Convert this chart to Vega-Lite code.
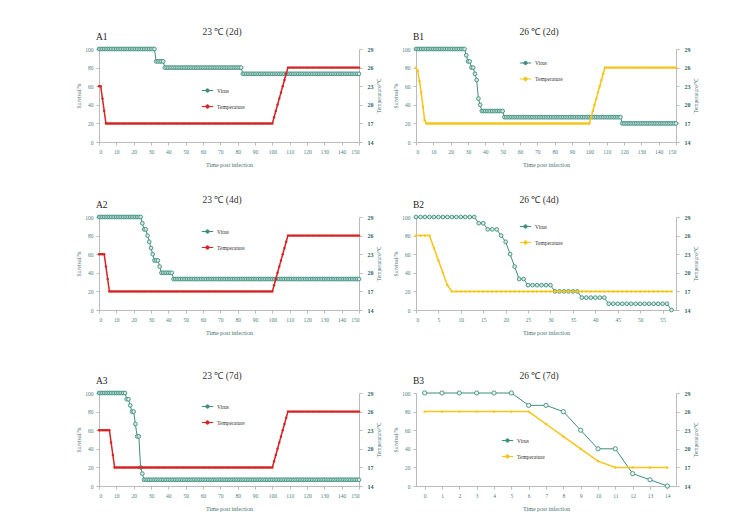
{
"$schema":"https://vega.github.io/schema/vega-lite/v6.json",
"padding":{"left":76,"top":26,"right":5,"bottom":5},
"autosize":{"type":"pad"},
"datasets":{
"A1":[{"t":0,"v":100,"T":23},{"t":1,"v":100,"T":23},{"t":2,"v":100,"T":21},{"t":3,"v":100,"T":19},{"t":4,"v":100,"T":17},{"t":5,"v":100,"T":17},{"t":6,"v":100,"T":17},{"t":7,"v":100,"T":17},{"t":8,"v":100,"T":17},{"t":9,"v":100,"T":17},{"t":10,"v":100,"T":17},{"t":11,"v":100,"T":17},{"t":12,"v":100,"T":17},{"t":13,"v":100,"T":17},{"t":14,"v":100,"T":17},{"t":15,"v":100,"T":17},{"t":16,"v":100,"T":17},{"t":17,"v":100,"T":17},{"t":18,"v":100,"T":17},{"t":19,"v":100,"T":17},{"t":20,"v":100,"T":17},{"t":21,"v":100,"T":17},{"t":22,"v":100,"T":17},{"t":23,"v":100,"T":17},{"t":24,"v":100,"T":17},{"t":25,"v":100,"T":17},{"t":26,"v":100,"T":17},{"t":27,"v":100,"T":17},{"t":28,"v":100,"T":17},{"t":29,"v":100,"T":17},{"t":30,"v":100,"T":17},{"t":31,"v":100,"T":17},{"t":32,"v":100,"T":17},{"t":33,"v":86.7,"T":17},{"t":34,"v":86.7,"T":17},{"t":35,"v":86.7,"T":17},{"t":36,"v":86.7,"T":17},{"t":37,"v":86.7,"T":17},{"t":38,"v":80,"T":17},{"t":39,"v":80,"T":17},{"t":40,"v":80,"T":17},{"t":41,"v":80,"T":17},{"t":42,"v":80,"T":17},{"t":43,"v":80,"T":17},{"t":44,"v":80,"T":17},{"t":45,"v":80,"T":17},{"t":46,"v":80,"T":17},{"t":47,"v":80,"T":17},{"t":48,"v":80,"T":17},{"t":49,"v":80,"T":17},{"t":50,"v":80,"T":17},{"t":51,"v":80,"T":17},{"t":52,"v":80,"T":17},{"t":53,"v":80,"T":17},{"t":54,"v":80,"T":17},{"t":55,"v":80,"T":17},{"t":56,"v":80,"T":17},{"t":57,"v":80,"T":17},{"t":58,"v":80,"T":17},{"t":59,"v":80,"T":17},{"t":60,"v":80,"T":17},{"t":61,"v":80,"T":17},{"t":62,"v":80,"T":17},{"t":63,"v":80,"T":17},{"t":64,"v":80,"T":17},{"t":65,"v":80,"T":17},{"t":66,"v":80,"T":17},{"t":67,"v":80,"T":17},{"t":68,"v":80,"T":17},{"t":69,"v":80,"T":17},{"t":70,"v":80,"T":17},{"t":71,"v":80,"T":17},{"t":72,"v":80,"T":17},{"t":73,"v":80,"T":17},{"t":74,"v":80,"T":17},{"t":75,"v":80,"T":17},{"t":76,"v":80,"T":17},{"t":77,"v":80,"T":17},{"t":78,"v":80,"T":17},{"t":79,"v":80,"T":17},{"t":80,"v":80,"T":17},{"t":81,"v":80,"T":17},{"t":82,"v":80,"T":17},{"t":83,"v":73.3,"T":17},{"t":84,"v":73.3,"T":17},{"t":85,"v":73.3,"T":17},{"t":86,"v":73.3,"T":17},{"t":87,"v":73.3,"T":17},{"t":88,"v":73.3,"T":17},{"t":89,"v":73.3,"T":17},{"t":90,"v":73.3,"T":17},{"t":91,"v":73.3,"T":17},{"t":92,"v":73.3,"T":17},{"t":93,"v":73.3,"T":17},{"t":94,"v":73.3,"T":17},{"t":95,"v":73.3,"T":17},{"t":96,"v":73.3,"T":17},{"t":97,"v":73.3,"T":17},{"t":98,"v":73.3,"T":17},{"t":99,"v":73.3,"T":17},{"t":100,"v":73.3,"T":17},{"t":101,"v":73.3,"T":18},{"t":102,"v":73.3,"T":19},{"t":103,"v":73.3,"T":20},{"t":104,"v":73.3,"T":21},{"t":105,"v":73.3,"T":22},{"t":106,"v":73.3,"T":23},{"t":107,"v":73.3,"T":24},{"t":108,"v":73.3,"T":25},{"t":109,"v":73.3,"T":26},{"t":110,"v":73.3,"T":26},{"t":111,"v":73.3,"T":26},{"t":112,"v":73.3,"T":26},{"t":113,"v":73.3,"T":26},{"t":114,"v":73.3,"T":26},{"t":115,"v":73.3,"T":26},{"t":116,"v":73.3,"T":26},{"t":117,"v":73.3,"T":26},{"t":118,"v":73.3,"T":26},{"t":119,"v":73.3,"T":26},{"t":120,"v":73.3,"T":26},{"t":121,"v":73.3,"T":26},{"t":122,"v":73.3,"T":26},{"t":123,"v":73.3,"T":26},{"t":124,"v":73.3,"T":26},{"t":125,"v":73.3,"T":26},{"t":126,"v":73.3,"T":26},{"t":127,"v":73.3,"T":26},{"t":128,"v":73.3,"T":26},{"t":129,"v":73.3,"T":26},{"t":130,"v":73.3,"T":26},{"t":131,"v":73.3,"T":26},{"t":132,"v":73.3,"T":26},{"t":133,"v":73.3,"T":26},{"t":134,"v":73.3,"T":26},{"t":135,"v":73.3,"T":26},{"t":136,"v":73.3,"T":26},{"t":137,"v":73.3,"T":26},{"t":138,"v":73.3,"T":26},{"t":139,"v":73.3,"T":26},{"t":140,"v":73.3,"T":26},{"t":141,"v":73.3,"T":26},{"t":142,"v":73.3,"T":26},{"t":143,"v":73.3,"T":26},{"t":144,"v":73.3,"T":26},{"t":145,"v":73.3,"T":26},{"t":146,"v":73.3,"T":26},{"t":147,"v":73.3,"T":26},{"t":148,"v":73.3,"T":26},{"t":149,"v":73.3,"T":26},{"t":150,"v":73.3,"T":26}],
"B1":[{"t":0,"v":100,"T":26},{"t":1,"v":100,"T":25.5},{"t":2,"v":100,"T":23.8},{"t":3,"v":100,"T":22},{"t":4,"v":100,"T":19.7},{"t":5,"v":100,"T":17.5},{"t":6,"v":100,"T":17},{"t":7,"v":100,"T":17},{"t":8,"v":100,"T":17},{"t":9,"v":100,"T":17},{"t":10,"v":100,"T":17},{"t":11,"v":100,"T":17},{"t":12,"v":100,"T":17},{"t":13,"v":100,"T":17},{"t":14,"v":100,"T":17},{"t":15,"v":100,"T":17},{"t":16,"v":100,"T":17},{"t":17,"v":100,"T":17},{"t":18,"v":100,"T":17},{"t":19,"v":100,"T":17},{"t":20,"v":100,"T":17},{"t":21,"v":100,"T":17},{"t":22,"v":100,"T":17},{"t":23,"v":100,"T":17},{"t":24,"v":100,"T":17},{"t":25,"v":100,"T":17},{"t":26,"v":100,"T":17},{"t":27,"v":100,"T":17},{"t":28,"v":100,"T":17},{"t":29,"v":93.3,"T":17},{"t":30,"v":86.7,"T":17},{"t":31,"v":86.7,"T":17},{"t":32,"v":80,"T":17},{"t":33,"v":80,"T":17},{"t":34,"v":73.3,"T":17},{"t":35,"v":66.7,"T":17},{"t":36,"v":46.7,"T":17},{"t":37,"v":40,"T":17},{"t":38,"v":33.3,"T":17},{"t":39,"v":33.3,"T":17},{"t":40,"v":33.3,"T":17},{"t":41,"v":33.3,"T":17},{"t":42,"v":33.3,"T":17},{"t":43,"v":33.3,"T":17},{"t":44,"v":33.3,"T":17},{"t":45,"v":33.3,"T":17},{"t":46,"v":33.3,"T":17},{"t":47,"v":33.3,"T":17},{"t":48,"v":33.3,"T":17},{"t":49,"v":33.3,"T":17},{"t":50,"v":33.3,"T":17},{"t":51,"v":26.7,"T":17},{"t":52,"v":26.7,"T":17},{"t":53,"v":26.7,"T":17},{"t":54,"v":26.7,"T":17},{"t":55,"v":26.7,"T":17},{"t":56,"v":26.7,"T":17},{"t":57,"v":26.7,"T":17},{"t":58,"v":26.7,"T":17},{"t":59,"v":26.7,"T":17},{"t":60,"v":26.7,"T":17},{"t":61,"v":26.7,"T":17},{"t":62,"v":26.7,"T":17},{"t":63,"v":26.7,"T":17},{"t":64,"v":26.7,"T":17},{"t":65,"v":26.7,"T":17},{"t":66,"v":26.7,"T":17},{"t":67,"v":26.7,"T":17},{"t":68,"v":26.7,"T":17},{"t":69,"v":26.7,"T":17},{"t":70,"v":26.7,"T":17},{"t":71,"v":26.7,"T":17},{"t":72,"v":26.7,"T":17},{"t":73,"v":26.7,"T":17},{"t":74,"v":26.7,"T":17},{"t":75,"v":26.7,"T":17},{"t":76,"v":26.7,"T":17},{"t":77,"v":26.7,"T":17},{"t":78,"v":26.7,"T":17},{"t":79,"v":26.7,"T":17},{"t":80,"v":26.7,"T":17},{"t":81,"v":26.7,"T":17},{"t":82,"v":26.7,"T":17},{"t":83,"v":26.7,"T":17},{"t":84,"v":26.7,"T":17},{"t":85,"v":26.7,"T":17},{"t":86,"v":26.7,"T":17},{"t":87,"v":26.7,"T":17},{"t":88,"v":26.7,"T":17},{"t":89,"v":26.7,"T":17},{"t":90,"v":26.7,"T":17},{"t":91,"v":26.7,"T":17},{"t":92,"v":26.7,"T":17},{"t":93,"v":26.7,"T":17},{"t":94,"v":26.7,"T":17},{"t":95,"v":26.7,"T":17},{"t":96,"v":26.7,"T":17},{"t":97,"v":26.7,"T":17},{"t":98,"v":26.7,"T":17},{"t":99,"v":26.7,"T":17},{"t":100,"v":26.7,"T":17},{"t":101,"v":26.7,"T":18},{"t":102,"v":26.7,"T":19},{"t":103,"v":26.7,"T":20},{"t":104,"v":26.7,"T":21},{"t":105,"v":26.7,"T":22},{"t":106,"v":26.7,"T":23},{"t":107,"v":26.7,"T":24},{"t":108,"v":26.7,"T":25},{"t":109,"v":26.7,"T":26},{"t":110,"v":26.7,"T":26},{"t":111,"v":26.7,"T":26},{"t":112,"v":26.7,"T":26},{"t":113,"v":26.7,"T":26},{"t":114,"v":26.7,"T":26},{"t":115,"v":26.7,"T":26},{"t":116,"v":26.7,"T":26},{"t":117,"v":26.7,"T":26},{"t":118,"v":26.7,"T":26},{"t":119,"v":20,"T":26},{"t":120,"v":20,"T":26},{"t":121,"v":20,"T":26},{"t":122,"v":20,"T":26},{"t":123,"v":20,"T":26},{"t":124,"v":20,"T":26},{"t":125,"v":20,"T":26},{"t":126,"v":20,"T":26},{"t":127,"v":20,"T":26},{"t":128,"v":20,"T":26},{"t":129,"v":20,"T":26},{"t":130,"v":20,"T":26},{"t":131,"v":20,"T":26},{"t":132,"v":20,"T":26},{"t":133,"v":20,"T":26},{"t":134,"v":20,"T":26},{"t":135,"v":20,"T":26},{"t":136,"v":20,"T":26},{"t":137,"v":20,"T":26},{"t":138,"v":20,"T":26},{"t":139,"v":20,"T":26},{"t":140,"v":20,"T":26},{"t":141,"v":20,"T":26},{"t":142,"v":20,"T":26},{"t":143,"v":20,"T":26},{"t":144,"v":20,"T":26},{"t":145,"v":20,"T":26},{"t":146,"v":20,"T":26},{"t":147,"v":20,"T":26},{"t":148,"v":20,"T":26},{"t":149,"v":20,"T":26},{"t":150,"v":20,"T":26}],
"A2":[{"t":0,"v":100,"T":23},{"t":1,"v":100,"T":23},{"t":2,"v":100,"T":23},{"t":3,"v":100,"T":23},{"t":4,"v":100,"T":21},{"t":5,"v":100,"T":19},{"t":6,"v":100,"T":17},{"t":7,"v":100,"T":17},{"t":8,"v":100,"T":17},{"t":9,"v":100,"T":17},{"t":10,"v":100,"T":17},{"t":11,"v":100,"T":17},{"t":12,"v":100,"T":17},{"t":13,"v":100,"T":17},{"t":14,"v":100,"T":17},{"t":15,"v":100,"T":17},{"t":16,"v":100,"T":17},{"t":17,"v":100,"T":17},{"t":18,"v":100,"T":17},{"t":19,"v":100,"T":17},{"t":20,"v":100,"T":17},{"t":21,"v":100,"T":17},{"t":22,"v":100,"T":17},{"t":23,"v":100,"T":17},{"t":24,"v":100,"T":17},{"t":25,"v":93.3,"T":17},{"t":26,"v":86.7,"T":17},{"t":27,"v":86.7,"T":17},{"t":28,"v":80,"T":17},{"t":29,"v":73.3,"T":17},{"t":30,"v":66.7,"T":17},{"t":31,"v":60,"T":17},{"t":32,"v":53.3,"T":17},{"t":33,"v":53.3,"T":17},{"t":34,"v":53.3,"T":17},{"t":35,"v":46.7,"T":17},{"t":36,"v":40,"T":17},{"t":37,"v":40,"T":17},{"t":38,"v":40,"T":17},{"t":39,"v":40,"T":17},{"t":40,"v":40,"T":17},{"t":41,"v":40,"T":17},{"t":42,"v":40,"T":17},{"t":43,"v":33.3,"T":17},{"t":44,"v":33.3,"T":17},{"t":45,"v":33.3,"T":17},{"t":46,"v":33.3,"T":17},{"t":47,"v":33.3,"T":17},{"t":48,"v":33.3,"T":17},{"t":49,"v":33.3,"T":17},{"t":50,"v":33.3,"T":17},{"t":51,"v":33.3,"T":17},{"t":52,"v":33.3,"T":17},{"t":53,"v":33.3,"T":17},{"t":54,"v":33.3,"T":17},{"t":55,"v":33.3,"T":17},{"t":56,"v":33.3,"T":17},{"t":57,"v":33.3,"T":17},{"t":58,"v":33.3,"T":17},{"t":59,"v":33.3,"T":17},{"t":60,"v":33.3,"T":17},{"t":61,"v":33.3,"T":17},{"t":62,"v":33.3,"T":17},{"t":63,"v":33.3,"T":17},{"t":64,"v":33.3,"T":17},{"t":65,"v":33.3,"T":17},{"t":66,"v":33.3,"T":17},{"t":67,"v":33.3,"T":17},{"t":68,"v":33.3,"T":17},{"t":69,"v":33.3,"T":17},{"t":70,"v":33.3,"T":17},{"t":71,"v":33.3,"T":17},{"t":72,"v":33.3,"T":17},{"t":73,"v":33.3,"T":17},{"t":74,"v":33.3,"T":17},{"t":75,"v":33.3,"T":17},{"t":76,"v":33.3,"T":17},{"t":77,"v":33.3,"T":17},{"t":78,"v":33.3,"T":17},{"t":79,"v":33.3,"T":17},{"t":80,"v":33.3,"T":17},{"t":81,"v":33.3,"T":17},{"t":82,"v":33.3,"T":17},{"t":83,"v":33.3,"T":17},{"t":84,"v":33.3,"T":17},{"t":85,"v":33.3,"T":17},{"t":86,"v":33.3,"T":17},{"t":87,"v":33.3,"T":17},{"t":88,"v":33.3,"T":17},{"t":89,"v":33.3,"T":17},{"t":90,"v":33.3,"T":17},{"t":91,"v":33.3,"T":17},{"t":92,"v":33.3,"T":17},{"t":93,"v":33.3,"T":17},{"t":94,"v":33.3,"T":17},{"t":95,"v":33.3,"T":17},{"t":96,"v":33.3,"T":17},{"t":97,"v":33.3,"T":17},{"t":98,"v":33.3,"T":17},{"t":99,"v":33.3,"T":17},{"t":100,"v":33.3,"T":17},{"t":101,"v":33.3,"T":18},{"t":102,"v":33.3,"T":19},{"t":103,"v":33.3,"T":20},{"t":104,"v":33.3,"T":21},{"t":105,"v":33.3,"T":22},{"t":106,"v":33.3,"T":23},{"t":107,"v":33.3,"T":24},{"t":108,"v":33.3,"T":25},{"t":109,"v":33.3,"T":26},{"t":110,"v":33.3,"T":26},{"t":111,"v":33.3,"T":26},{"t":112,"v":33.3,"T":26},{"t":113,"v":33.3,"T":26},{"t":114,"v":33.3,"T":26},{"t":115,"v":33.3,"T":26},{"t":116,"v":33.3,"T":26},{"t":117,"v":33.3,"T":26},{"t":118,"v":33.3,"T":26},{"t":119,"v":33.3,"T":26},{"t":120,"v":33.3,"T":26},{"t":121,"v":33.3,"T":26},{"t":122,"v":33.3,"T":26},{"t":123,"v":33.3,"T":26},{"t":124,"v":33.3,"T":26},{"t":125,"v":33.3,"T":26},{"t":126,"v":33.3,"T":26},{"t":127,"v":33.3,"T":26},{"t":128,"v":33.3,"T":26},{"t":129,"v":33.3,"T":26},{"t":130,"v":33.3,"T":26},{"t":131,"v":33.3,"T":26},{"t":132,"v":33.3,"T":26},{"t":133,"v":33.3,"T":26},{"t":134,"v":33.3,"T":26},{"t":135,"v":33.3,"T":26},{"t":136,"v":33.3,"T":26},{"t":137,"v":33.3,"T":26},{"t":138,"v":33.3,"T":26},{"t":139,"v":33.3,"T":26},{"t":140,"v":33.3,"T":26},{"t":141,"v":33.3,"T":26},{"t":142,"v":33.3,"T":26},{"t":143,"v":33.3,"T":26},{"t":144,"v":33.3,"T":26},{"t":145,"v":33.3,"T":26},{"t":146,"v":33.3,"T":26},{"t":147,"v":33.3,"T":26},{"t":148,"v":33.3,"T":26},{"t":149,"v":33.3,"T":26},{"t":150,"v":33.3,"T":26}],
"A3":[{"t":0,"v":100,"T":23},{"t":1,"v":100,"T":23},{"t":2,"v":100,"T":23},{"t":3,"v":100,"T":23},{"t":4,"v":100,"T":23},{"t":5,"v":100,"T":23},{"t":6,"v":100,"T":23},{"t":7,"v":100,"T":21},{"t":8,"v":100,"T":19},{"t":9,"v":100,"T":17},{"t":10,"v":100,"T":17},{"t":11,"v":100,"T":17},{"t":12,"v":100,"T":17},{"t":13,"v":100,"T":17},{"t":14,"v":100,"T":17},{"t":15,"v":100,"T":17},{"t":16,"v":93.3,"T":17},{"t":17,"v":93.3,"T":17},{"t":18,"v":86.7,"T":17},{"t":19,"v":80,"T":17},{"t":20,"v":80,"T":17},{"t":21,"v":66.7,"T":17},{"t":22,"v":53.3,"T":17},{"t":23,"v":53.3,"T":17},{"t":24,"v":20,"T":17},{"t":25,"v":13.3,"T":17},{"t":26,"v":6.7,"T":17},{"t":27,"v":6.7,"T":17},{"t":28,"v":6.7,"T":17},{"t":29,"v":6.7,"T":17},{"t":30,"v":6.7,"T":17},{"t":31,"v":6.7,"T":17},{"t":32,"v":6.7,"T":17},{"t":33,"v":6.7,"T":17},{"t":34,"v":6.7,"T":17},{"t":35,"v":6.7,"T":17},{"t":36,"v":6.7,"T":17},{"t":37,"v":6.7,"T":17},{"t":38,"v":6.7,"T":17},{"t":39,"v":6.7,"T":17},{"t":40,"v":6.7,"T":17},{"t":41,"v":6.7,"T":17},{"t":42,"v":6.7,"T":17},{"t":43,"v":6.7,"T":17},{"t":44,"v":6.7,"T":17},{"t":45,"v":6.7,"T":17},{"t":46,"v":6.7,"T":17},{"t":47,"v":6.7,"T":17},{"t":48,"v":6.7,"T":17},{"t":49,"v":6.7,"T":17},{"t":50,"v":6.7,"T":17},{"t":51,"v":6.7,"T":17},{"t":52,"v":6.7,"T":17},{"t":53,"v":6.7,"T":17},{"t":54,"v":6.7,"T":17},{"t":55,"v":6.7,"T":17},{"t":56,"v":6.7,"T":17},{"t":57,"v":6.7,"T":17},{"t":58,"v":6.7,"T":17},{"t":59,"v":6.7,"T":17},{"t":60,"v":6.7,"T":17},{"t":61,"v":6.7,"T":17},{"t":62,"v":6.7,"T":17},{"t":63,"v":6.7,"T":17},{"t":64,"v":6.7,"T":17},{"t":65,"v":6.7,"T":17},{"t":66,"v":6.7,"T":17},{"t":67,"v":6.7,"T":17},{"t":68,"v":6.7,"T":17},{"t":69,"v":6.7,"T":17},{"t":70,"v":6.7,"T":17},{"t":71,"v":6.7,"T":17},{"t":72,"v":6.7,"T":17},{"t":73,"v":6.7,"T":17},{"t":74,"v":6.7,"T":17},{"t":75,"v":6.7,"T":17},{"t":76,"v":6.7,"T":17},{"t":77,"v":6.7,"T":17},{"t":78,"v":6.7,"T":17},{"t":79,"v":6.7,"T":17},{"t":80,"v":6.7,"T":17},{"t":81,"v":6.7,"T":17},{"t":82,"v":6.7,"T":17},{"t":83,"v":6.7,"T":17},{"t":84,"v":6.7,"T":17},{"t":85,"v":6.7,"T":17},{"t":86,"v":6.7,"T":17},{"t":87,"v":6.7,"T":17},{"t":88,"v":6.7,"T":17},{"t":89,"v":6.7,"T":17},{"t":90,"v":6.7,"T":17},{"t":91,"v":6.7,"T":17},{"t":92,"v":6.7,"T":17},{"t":93,"v":6.7,"T":17},{"t":94,"v":6.7,"T":17},{"t":95,"v":6.7,"T":17},{"t":96,"v":6.7,"T":17},{"t":97,"v":6.7,"T":17},{"t":98,"v":6.7,"T":17},{"t":99,"v":6.7,"T":17},{"t":100,"v":6.7,"T":17},{"t":101,"v":6.7,"T":18},{"t":102,"v":6.7,"T":19},{"t":103,"v":6.7,"T":20},{"t":104,"v":6.7,"T":21},{"t":105,"v":6.7,"T":22},{"t":106,"v":6.7,"T":23},{"t":107,"v":6.7,"T":24},{"t":108,"v":6.7,"T":25},{"t":109,"v":6.7,"T":26},{"t":110,"v":6.7,"T":26},{"t":111,"v":6.7,"T":26},{"t":112,"v":6.7,"T":26},{"t":113,"v":6.7,"T":26},{"t":114,"v":6.7,"T":26},{"t":115,"v":6.7,"T":26},{"t":116,"v":6.7,"T":26},{"t":117,"v":6.7,"T":26},{"t":118,"v":6.7,"T":26},{"t":119,"v":6.7,"T":26},{"t":120,"v":6.7,"T":26},{"t":121,"v":6.7,"T":26},{"t":122,"v":6.7,"T":26},{"t":123,"v":6.7,"T":26},{"t":124,"v":6.7,"T":26},{"t":125,"v":6.7,"T":26},{"t":126,"v":6.7,"T":26},{"t":127,"v":6.7,"T":26},{"t":128,"v":6.7,"T":26},{"t":129,"v":6.7,"T":26},{"t":130,"v":6.7,"T":26},{"t":131,"v":6.7,"T":26},{"t":132,"v":6.7,"T":26},{"t":133,"v":6.7,"T":26},{"t":134,"v":6.7,"T":26},{"t":135,"v":6.7,"T":26},{"t":136,"v":6.7,"T":26},{"t":137,"v":6.7,"T":26},{"t":138,"v":6.7,"T":26},{"t":139,"v":6.7,"T":26},{"t":140,"v":6.7,"T":26},{"t":141,"v":6.7,"T":26},{"t":142,"v":6.7,"T":26},{"t":143,"v":6.7,"T":26},{"t":144,"v":6.7,"T":26},{"t":145,"v":6.7,"T":26},{"t":146,"v":6.7,"T":26},{"t":147,"v":6.7,"T":26},{"t":148,"v":6.7,"T":26},{"t":149,"v":6.7,"T":26},{"t":150,"v":6.7,"T":26}],
"B2":[{"t":0,"v":100,"T":26},{"t":1,"v":100,"T":26},{"t":2,"v":100,"T":26},{"t":3,"v":100,"T":26},{"t":4,"v":100,"T":24},{"t":5,"v":100,"T":22},{"t":6,"v":100,"T":20},{"t":7,"v":100,"T":18},{"t":8,"v":100,"T":17},{"t":9,"v":100,"T":17},{"t":10,"v":100,"T":17},{"t":11,"v":100,"T":17},{"t":12,"v":100,"T":17},{"t":13,"v":100,"T":17},{"t":14,"v":93.3,"T":17},{"t":15,"v":93.3,"T":17},{"t":16,"v":86.7,"T":17},{"t":17,"v":86.7,"T":17},{"t":18,"v":86.7,"T":17},{"t":19,"v":80,"T":17},{"t":20,"v":73.3,"T":17},{"t":21,"v":60,"T":17},{"t":22,"v":46.7,"T":17},{"t":23,"v":33.3,"T":17},{"t":24,"v":33.3,"T":17},{"t":25,"v":26.7,"T":17},{"t":26,"v":26.7,"T":17},{"t":27,"v":26.7,"T":17},{"t":28,"v":26.7,"T":17},{"t":29,"v":26.7,"T":17},{"t":30,"v":26.7,"T":17},{"t":31,"v":20,"T":17},{"t":32,"v":20,"T":17},{"t":33,"v":20,"T":17},{"t":34,"v":20,"T":17},{"t":35,"v":20,"T":17},{"t":36,"v":20,"T":17},{"t":37,"v":13.3,"T":17},{"t":38,"v":13.3,"T":17},{"t":39,"v":13.3,"T":17},{"t":40,"v":13.3,"T":17},{"t":41,"v":13.3,"T":17},{"t":42,"v":13.3,"T":17},{"t":43,"v":6.7,"T":17},{"t":44,"v":6.7,"T":17},{"t":45,"v":6.7,"T":17},{"t":46,"v":6.7,"T":17},{"t":47,"v":6.7,"T":17},{"t":48,"v":6.7,"T":17},{"t":49,"v":6.7,"T":17},{"t":50,"v":6.7,"T":17},{"t":51,"v":6.7,"T":17},{"t":52,"v":6.7,"T":17},{"t":53,"v":6.7,"T":17},{"t":54,"v":6.7,"T":17},{"t":55,"v":6.7,"T":17},{"t":56,"v":6.7,"T":17},{"t":57,"v":0,"T":17}],
"B3":[{"t":0,"v":100,"T":26},{"t":1,"v":100,"T":26},{"t":2,"v":100,"T":26},{"t":3,"v":100,"T":26},{"t":4,"v":100,"T":26},{"t":5,"v":100,"T":26},{"t":6,"v":86.7,"T":26},{"t":7,"v":86.7,"T":24},{"t":8,"v":80,"T":22},{"t":9,"v":60,"T":20},{"t":10,"v":40,"T":18},{"t":11,"v":40,"T":17},{"t":12,"v":13.3,"T":17},{"t":13,"v":6.7,"T":17},{"t":14,"v":0,"T":17}]
},
"vconcat":[
 {"vconcat":[
  {"hconcat":[
   {"width":260,"height":93,"title":{"text":"23 ℃ (2d)"},
    "layer":[
     {"layer":[
      {"data":{"name":"A1"},"mark":{"type":"line","strokeWidth":1,"point":{"filled":false,"fill":"#d6e8e4","size":14,"strokeWidth":0.9}},
       "encoding":{"x":{"field":"t","type":"quantitative","scale":{"domain":[0,150],"nice":false},"axis":{"labelOverlap":false,"values":[0,10,20,30,40,50,60,70,80,90,100,110,120,130,140,150],"title":"Time post infection"}},
        "y":{"field":"v","type":"quantitative","scale":{"domain":[0,100],"nice":false},"axis":{"labelOverlap":false,"values":[0,20,40,60,80,100],"title":"Survival/%"}},
        "color":{"datum":"Virus","scale":{"domain":["Virus","Temperature"],"range":["#3e8e7e","#d42424"]},"legend":{"title":null,"legendX":102,"legendY":35}}}},
      {"data":{"values":[{}]},"mark":{"type":"text","text":"A1","align":"left","baseline":"middle","dx":-3,"dy":-12,"fontSize":9.5,"color":"#222"},
       "encoding":{"x":{"datum":0,"type":"quantitative","axis":{"labelOverlap":false,"values":[0,10,20,30,40,50,60,70,80,90,100,110,120,130,140,150],"title":"Time post infection"}},"y":{"datum":100,"type":"quantitative","axis":{"labelOverlap":false,"values":[0,20,40,60,80,100],"title":"Survival/%"}}}}
     ]},
     {"data":{"name":"A1"},"mark":{"type":"line","strokeWidth":1.5,"point":{"filled":true,"size":6}},
      "encoding":{"x":{"field":"t","type":"quantitative","axis":{"labelOverlap":false,"values":[0,10,20,30,40,50,60,70,80,90,100,110,120,130,140,150],"title":"Time post infection"}},
       "y":{"field":"T","type":"quantitative","scale":{"domain":[14,29],"nice":false},"axis":{"labelOverlap":false,"orient":"right","values":[14,17,20,23,26,29],"title":"Temperature/℃"}},
       "color":{"datum":"Temperature"}}}
    ],
    "resolve":{"scale":{"y":"independent"}}},
   {"width":260,"height":93,"title":{"text":"26 ℃ (2d)"},
    "layer":[
     {"layer":[
      {"data":{"name":"B1"},"mark":{"type":"line","strokeWidth":1,"point":{"filled":false,"fill":"#d6e8e4","size":14,"strokeWidth":0.9}},
       "encoding":{"x":{"field":"t","type":"quantitative","scale":{"domain":[0,150],"nice":false},"axis":{"labelOverlap":false,"values":[0,10,20,30,40,50,60,70,80,90,100,110,120,130,140,150],"title":"Time post infection"}},
        "y":{"field":"v","type":"quantitative","scale":{"domain":[0,100],"nice":false},"axis":{"labelOverlap":false,"values":[0,20,40,60,80,100],"title":"Survival/%"}},
        "color":{"datum":"Virus","scale":{"domain":["Virus","Temperature"],"range":["#3e8e7e","#f5c518"]},"legend":{"title":null,"legendX":103,"legendY":7.5}}}},
      {"data":{"values":[{}]},"mark":{"type":"text","text":"B1","align":"left","baseline":"middle","dx":-3,"dy":-12,"fontSize":9.5,"color":"#222"},
       "encoding":{"x":{"datum":0,"type":"quantitative","axis":{"labelOverlap":false,"values":[0,10,20,30,40,50,60,70,80,90,100,110,120,130,140,150],"title":"Time post infection"}},"y":{"datum":100,"type":"quantitative","axis":{"labelOverlap":false,"values":[0,20,40,60,80,100],"title":"Survival/%"}}}}
     ]},
     {"data":{"name":"B1"},"mark":{"type":"line","strokeWidth":1.5,"point":{"filled":true,"size":6}},
      "encoding":{"x":{"field":"t","type":"quantitative","axis":{"labelOverlap":false,"values":[0,10,20,30,40,50,60,70,80,90,100,110,120,130,140,150],"title":"Time post infection"}},
       "y":{"field":"T","type":"quantitative","scale":{"domain":[14,29],"nice":false},"axis":{"labelOverlap":false,"orient":"right","values":[14,17,20,23,26,29],"title":"Temperature/℃"}},
       "color":{"datum":"Temperature"}}}
    ],
    "resolve":{"scale":{"y":"independent"}}}
  ],"spacing":11,"resolve":{"scale":{"color":"independent"}}},
  {"hconcat":[
   {"width":260,"height":93,"title":{"text":"23 ℃ (4d)"},
    "layer":[
     {"layer":[
      {"data":{"name":"A2"},"mark":{"type":"line","strokeWidth":1,"point":{"filled":false,"fill":"#d6e8e4","size":14,"strokeWidth":0.9}},
       "encoding":{"x":{"field":"t","type":"quantitative","scale":{"domain":[0,150],"nice":false},"axis":{"labelOverlap":false,"values":[0,10,20,30,40,50,60,70,80,90,100,110,120,130,140,150],"title":"Time post infection"}},
        "y":{"field":"v","type":"quantitative","scale":{"domain":[0,100],"nice":false},"axis":{"labelOverlap":false,"values":[0,20,40,60,80,100],"title":"Survival/%"}},
        "color":{"datum":"Virus","scale":{"domain":["Virus","Temperature"],"range":["#3e8e7e","#d42424"]},"legend":{"title":null,"legendX":102,"legendY":8}}}},
      {"data":{"values":[{}]},"mark":{"type":"text","text":"A2","align":"left","baseline":"middle","dx":-3,"dy":-12,"fontSize":9.5,"color":"#222"},
       "encoding":{"x":{"datum":0,"type":"quantitative","axis":{"labelOverlap":false,"values":[0,10,20,30,40,50,60,70,80,90,100,110,120,130,140,150],"title":"Time post infection"}},"y":{"datum":100,"type":"quantitative","axis":{"labelOverlap":false,"values":[0,20,40,60,80,100],"title":"Survival/%"}}}}
     ]},
     {"data":{"name":"A2"},"mark":{"type":"line","strokeWidth":1.5,"point":{"filled":true,"size":6}},
      "encoding":{"x":{"field":"t","type":"quantitative","axis":{"labelOverlap":false,"values":[0,10,20,30,40,50,60,70,80,90,100,110,120,130,140,150],"title":"Time post infection"}},
       "y":{"field":"T","type":"quantitative","scale":{"domain":[14,29],"nice":false},"axis":{"labelOverlap":false,"orient":"right","values":[14,17,20,23,26,29],"title":"Temperature/℃"}},
       "color":{"datum":"Temperature"}}}
    ],
    "resolve":{"scale":{"y":"independent"}}},
   {"width":260,"height":93,"title":{"text":"26 ℃ (4d)"},
    "layer":[
     {"layer":[
      {"data":{"name":"B2"},"mark":{"type":"line","strokeWidth":1,"point":{"filled":false,"fill":"#d6e8e4","size":14,"strokeWidth":0.9}},
       "encoding":{"x":{"field":"t","type":"quantitative","scale":{"domain":[0,58],"nice":false},"axis":{"labelOverlap":false,"values":[0,5,10,15,20,25,30,35,40,45,50,55],"title":"Time post infection"}},
        "y":{"field":"v","type":"quantitative","scale":{"domain":[0,100],"nice":false},"axis":{"labelOverlap":false,"values":[0,20,40,60,80,100],"title":"Survival/%"}},
        "color":{"datum":"Virus","scale":{"domain":["Virus","Temperature"],"range":["#3e8e7e","#f5c518"]},"legend":{"title":null,"legendX":103,"legendY":3}}}},
      {"data":{"values":[{}]},"mark":{"type":"text","text":"B2","align":"left","baseline":"middle","dx":-3,"dy":-12,"fontSize":9.5,"color":"#222"},
       "encoding":{"x":{"datum":0,"type":"quantitative","axis":{"labelOverlap":false,"values":[0,5,10,15,20,25,30,35,40,45,50,55],"title":"Time post infection"}},"y":{"datum":100,"type":"quantitative","axis":{"labelOverlap":false,"values":[0,20,40,60,80,100],"title":"Survival/%"}}}}
     ]},
     {"data":{"name":"B2"},"mark":{"type":"line","strokeWidth":1.5,"point":{"filled":true,"size":6}},
      "encoding":{"x":{"field":"t","type":"quantitative","axis":{"labelOverlap":false,"values":[0,5,10,15,20,25,30,35,40,45,50,55],"title":"Time post infection"}},
       "y":{"field":"T","type":"quantitative","scale":{"domain":[14,29],"nice":false},"axis":{"labelOverlap":false,"orient":"right","values":[14,17,20,23,26,29],"title":"Temperature/℃"}},
       "color":{"datum":"Temperature"}}}
    ],
    "resolve":{"scale":{"y":"independent"}}}
  ],"spacing":11,"resolve":{"scale":{"color":"independent"}}}
 ],"spacing":26,"resolve":{"scale":{"color":"independent"}}},
 {"hconcat":[
   {"width":260,"height":93,"title":{"text":"23 ℃ (7d)"},
    "layer":[
     {"layer":[
      {"data":{"name":"A3"},"mark":{"type":"line","strokeWidth":1,"point":{"filled":false,"fill":"#d6e8e4","size":14,"strokeWidth":0.9}},
       "encoding":{"x":{"field":"t","type":"quantitative","scale":{"domain":[0,150],"nice":false},"axis":{"labelOverlap":false,"values":[0,10,20,30,40,50,60,70,80,90,100,110,120,130,140,150],"title":"Time post infection"}},
        "y":{"field":"v","type":"quantitative","scale":{"domain":[0,100],"nice":false},"axis":{"labelOverlap":false,"values":[0,20,40,60,80,100],"title":"Survival/%"}},
        "color":{"datum":"Virus","scale":{"domain":["Virus","Temperature"],"range":["#3e8e7e","#d42424"]},"legend":{"title":null,"legendX":102,"legendY":7}}}},
      {"data":{"values":[{}]},"mark":{"type":"text","text":"A3","align":"left","baseline":"middle","dx":-3,"dy":-12,"fontSize":9.5,"color":"#222"},
       "encoding":{"x":{"datum":0,"type":"quantitative","axis":{"labelOverlap":false,"values":[0,10,20,30,40,50,60,70,80,90,100,110,120,130,140,150],"title":"Time post infection"}},"y":{"datum":100,"type":"quantitative","axis":{"labelOverlap":false,"values":[0,20,40,60,80,100],"title":"Survival/%"}}}}
     ]},
     {"data":{"name":"A3"},"mark":{"type":"line","strokeWidth":1.5,"point":{"filled":true,"size":6}},
      "encoding":{"x":{"field":"t","type":"quantitative","axis":{"labelOverlap":false,"values":[0,10,20,30,40,50,60,70,80,90,100,110,120,130,140,150],"title":"Time post infection"}},
       "y":{"field":"T","type":"quantitative","scale":{"domain":[14,29],"nice":false},"axis":{"labelOverlap":false,"orient":"right","values":[14,17,20,23,26,29],"title":"Temperature/℃"}},
       "color":{"datum":"Temperature"}}}
    ],
    "resolve":{"scale":{"y":"independent"}}},
   {"width":260,"height":93,"title":{"text":"26 ℃ (7d)"},
    "layer":[
     {"layer":[
      {"data":{"name":"B3"},"mark":{"type":"line","strokeWidth":1,"point":{"filled":false,"fill":"#eef5f3","size":18,"strokeWidth":0.9}},
       "encoding":{"x":{"field":"t","type":"quantitative","scale":{"domain":[-0.5,14.5],"nice":false},"axis":{"labelOverlap":false,"values":[0,1,2,3,4,5,6,7,8,9,10,11,12,13,14],"title":"Time post infection"}},
        "y":{"field":"v","type":"quantitative","scale":{"domain":[0,100],"nice":false},"axis":{"labelOverlap":false,"values":[0,20,40,60,80,100],"title":"Survival/%"}},
        "color":{"datum":"Virus","scale":{"domain":["Virus","Temperature"],"range":["#3e8e7e","#f5c518"]},"legend":{"title":null,"legendX":85,"legendY":41}}}},
      {"data":{"values":[{}]},"mark":{"type":"text","text":"B3","align":"left","baseline":"middle","dx":-3,"dy":-12,"fontSize":9.5,"color":"#222"},
       "encoding":{"x":{"datum":-0.5,"type":"quantitative","axis":{"labelOverlap":false,"values":[0,1,2,3,4,5,6,7,8,9,10,11,12,13,14],"title":"Time post infection"}},"y":{"datum":100,"type":"quantitative","axis":{"labelOverlap":false,"values":[0,20,40,60,80,100],"title":"Survival/%"}}}}
     ]},
     {"data":{"name":"B3"},"mark":{"type":"line","strokeWidth":1.5,"point":{"filled":true,"size":6}},
      "encoding":{"x":{"field":"t","type":"quantitative","axis":{"labelOverlap":false,"values":[0,1,2,3,4,5,6,7,8,9,10,11,12,13,14],"title":"Time post infection"}},
       "y":{"field":"T","type":"quantitative","scale":{"domain":[14,29],"nice":false},"axis":{"labelOverlap":false,"orient":"right","values":[14,17,20,23,26,29],"title":"Temperature/℃"}},
       "color":{"datum":"Temperature"}}}
    ],
    "resolve":{"scale":{"y":"independent"}}}
 ],"spacing":11,"resolve":{"scale":{"color":"independent"}}}
],
"spacing":34,
"resolve":{"scale":{"color":"independent"}},
"config":{
 "font":"Liberation Serif",
 "background":"white",
 "view":{"stroke":null},
 "axis":{"grid":false,"labelOverlap":false,"labelFontSize":5.5,"labelColor":"#4f7f7f","titleFontSize":5.5,"titleFontWeight":"normal","titleColor":"#3f6f6f","domainColor":"#bbbbbb","tickColor":"#bbbbbb","tickSize":3,"labelPadding":3,"titlePadding":3},
 "axisX":{"labelPadding":4,"titlePadding":7,"titleFontSize":6},
 "axisRight":{"labelFontWeight":"bold","labelFontSize":6,"labelColor":"#2e6666","labelPadding":5,"titleAngle":270,"titleBaseline":"top"},
 "title":{"fontSize":9.5,"fontWeight":"normal","color":"#333333","font":"Liberation Serif","offset":-4,"dx":-7},
 "legend":{"orient":"none","symbolType":"M-1,0H1M-0.3,0A0.3,0.3 0 1 0 0.3,0A0.3,0.3 0 1 0 -0.3,0","symbolSize":130,"symbolStrokeWidth":1,"labelFontSize":5.5,"labelColor":"#333333","rowPadding":5,"padding":0,"labelOffset":3}
}
}
